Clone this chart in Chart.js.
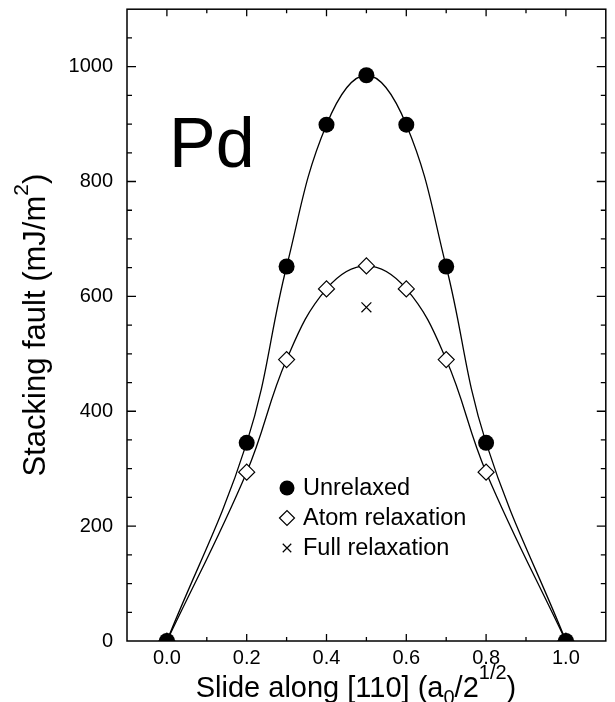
<!DOCTYPE html>
<html>
<head>
<meta charset="utf-8">
<script src="https://cdn.jsdelivr.net/npm/chart.js@4.4.1/dist/chart.umd.min.js"></script>
<style>
  html, body { margin: 0; padding: 0; background: #fff; }
  #wrap { width: 615px; height: 702px; }
</style>
</head>
<body>
<div id="wrap"><canvas id="sfChart" width="615" height="702"></canvas></div>
<script>
// slide positions (units of a0/2^1/2) and stacking fault energies (mJ/m^2)
const slide = [0.0, 0.2, 0.3, 0.4, 0.5, 0.6, 0.7, 0.8, 1.0];
const unrelaxed = [0, 345, 652, 899, 985, 899, 652, 345, 0];
const atomRelaxed = [0, 294, 490, 613, 653, 613, 490, 294, 0];
const fullSlide = [0.5];
const fullRelaxed = [581];
const seriesLabels = ['Unrelaxed', 'Atom relaxation', 'Full relaxation'];
const xTicks = [0.0, 0.2, 0.4, 0.6, 0.8, 1.0];
const yTicks = [0, 200, 400, 600, 800, 1000];

const FONT = "'Liberation Sans', Arial, Helvetica, sans-serif";
Chart.defaults.font.family = FONT;
Chart.defaults.color = '#000';

function toPoints(xs, ys) {
  return xs.map((x, i) => ({ x: x, y: ys[i] }));
}

// draws a run of text pieces, some raised or lowered
function richText(ctx, parts, size, x, y, supRise) {
  const small = Math.round(size * 0.68);
  let total = 0;
  parts.forEach(p => {
    ctx.font = (p.sup || p.sub ? small : size) + 'px ' + FONT;
    p.w = ctx.measureText(p.t).width;
    total += p.w;
  });
  let cx = x - total / 2;
  parts.forEach(p => {
    ctx.font = (p.sup || p.sub ? small : size) + 'px ' + FONT;
    let dy = 0;
    if (p.sup) dy = -size * supRise;
    if (p.sub) dy = size * 0.25;
    ctx.fillText(p.t, cx, y + dy);
    cx += p.w;
  });
}

const framePlugin = {
  id: 'frame',
  afterDraw(chart) {
    const ctx = chart.ctx;
    const a = chart.chartArea;
    const xs = chart.scales.x, ys = chart.scales.y;
    ctx.save();
    ctx.strokeStyle = '#000';
    ctx.fillStyle = '#000';
    ctx.lineWidth = 1.5;
    ctx.strokeRect(a.left, a.top, a.right - a.left, a.bottom - a.top);

    // inward tick marks on all four sides
    ctx.lineWidth = 1.3;
    ctx.beginPath();
    for (let i = -1; i <= 11; i++) {
      const v = i / 10;
      if (v <= xs.min || v >= xs.max) continue;
      const px = xs.getPixelForValue(v);
      const len = (i % 2 === 0) ? 7 : 4;
      ctx.moveTo(px, a.bottom); ctx.lineTo(px, a.bottom - len);
      ctx.moveTo(px, a.top); ctx.lineTo(px, a.top + len);
    }
    for (let v = 50; v < ys.max; v += 50) {
      const py = ys.getPixelForValue(v);
      const len = (v % 200 === 0) ? 9 : 5;
      ctx.moveTo(a.left, py); ctx.lineTo(a.left + len, py);
      ctx.moveTo(a.right, py); ctx.lineTo(a.right - len, py);
    }
    ctx.stroke();

    // element label
    ctx.textAlign = 'left';
    ctx.textBaseline = 'alphabetic';
    ctx.font = '70px ' + FONT;
    ctx.fillText('Pd', 169, 167);

    // legend inside the plot
    const ds = chart.data.datasets;
    const lx = 287, ly = 488, step = 30;
    ds.forEach((d, i) => {
      const y = ly + i * step;
      ctx.fillStyle = d.pointBackgroundColor;
      ctx.strokeStyle = '#000';
      ctx.lineWidth = d.pointBorderWidth || 1;
      Chart.helpers.drawPoint(ctx, {
        pointStyle: d.pointStyle,
        radius: d.pointStyle === 'crossRot' ? 6 : 7.5,
        borderWidth: d.pointBorderWidth || 0,
        rotation: 0
      }, lx, y);
      ctx.fillStyle = '#000';
      ctx.font = '23.5px ' + FONT;
      ctx.textBaseline = 'middle';
      ctx.fillText(d.label, lx + 16, y + 1);
    });

    // axis titles
    ctx.textBaseline = 'alphabetic';
    richText(ctx, [
      { t: 'Slide along [110] (a' }, { t: '0', sub: true }, { t: '/2' },
      { t: '1/2', sup: true }, { t: ')' }
    ], 29, 356, 697, 0.62);

    ctx.translate(45, (a.top + a.bottom) / 2);
    ctx.rotate(-Math.PI / 2);
    richText(ctx, [
      { t: 'Stacking fault (mJ/m' }, { t: '2', sup: true }, { t: ')' }
    ], 31, 0, 0, 0.55);
    ctx.restore();
  }
};

const ctx = document.getElementById('sfChart').getContext('2d');
new Chart(ctx, {
  type: 'scatter',
  data: {
    datasets: [
      {
        label: seriesLabels[0],
        data: toPoints(slide, unrelaxed),
        showLine: true,
        tension: 0.4,
        borderColor: '#000',
        borderWidth: 1.3,
        pointStyle: 'circle',
        pointRadius: 8,
        pointBackgroundColor: '#000',
        pointBorderColor: '#000',
        pointBorderWidth: 0
      },
      {
        label: seriesLabels[1],
        data: toPoints(slide, atomRelaxed),
        showLine: true,
        tension: 0.4,
        borderColor: '#000',
        borderWidth: 1.3,
        pointStyle: 'rectRot',
        pointRadius: 8,
        pointBackgroundColor: '#fff',
        pointBorderColor: '#000',
        pointBorderWidth: 1.2
      },
      {
        label: seriesLabels[2],
        data: toPoints(fullSlide, fullRelaxed),
        showLine: false,
        pointStyle: 'crossRot',
        pointRadius: 7,
        pointBackgroundColor: '#000',
        pointBorderColor: '#000',
        pointBorderWidth: 1.2
      }
    ]
  },
  options: {
    responsive: false,
    animation: false,
    layout: { padding: { top: 7, right: 5, left: 0, bottom: 0 } },
    plugins: {
      legend: { display: false },
      tooltip: { enabled: false }
    },
    scales: {
      x: {
        type: 'linear',
        min: -0.1,
        max: 1.1,
        grid: { display: false, drawTicks: false },
        border: { display: false },
        afterBuildTicks: s => { s.ticks = xTicks.map(v => ({ value: v })); },
        afterFit: s => {
          s.height = 61;
          s.paddingLeft = 0; s.paddingRight = 0;
        },
        ticks: {
          font: { size: 20 },
          padding: 5,
          maxRotation: 0,
          autoSkip: false,
          callback: v => v.toFixed(1)
        }
      },
      y: {
        min: 0,
        max: 1100,
        grid: { display: false, drawTicks: false },
        border: { display: false },
        afterBuildTicks: s => { s.ticks = yTicks.map(v => ({ value: v })); },
        afterFit: s => {
          s.width = 127;
          s.paddingTop = 0; s.paddingBottom = 0;
        },
        ticks: {
          font: { size: 20 },
          padding: 14,
          autoSkip: false,
          callback: v => String(v)
        }
      }
    }
  },
  plugins: [framePlugin]
});
</script>
</body>
</html>
